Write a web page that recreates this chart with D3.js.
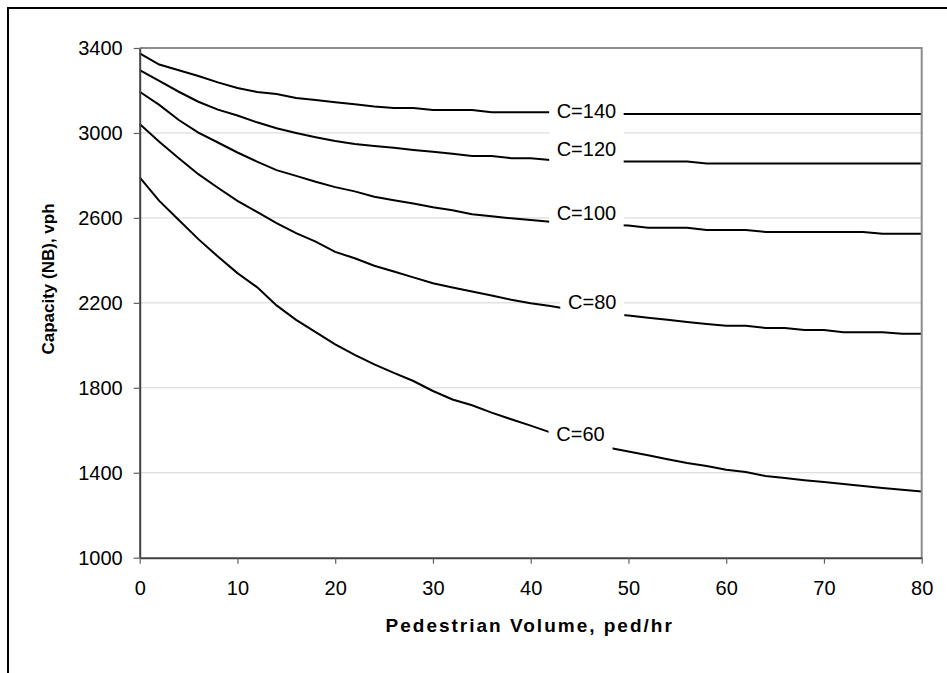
<!DOCTYPE html>
<html>
<head>
<meta charset="UTF-8">
<title>Capacity vs Pedestrian Volume</title>
<script src="https://d3js.org/d3.v7.min.js"></script>
<style>
  body { margin: 0; background: #fff; }
  text { font-family: "Liberation Sans", Arial, sans-serif; fill: #000; }
</style>
</head>
<body>
<div id="chart"></div>
<script>
// pedestrian volume (ped/hr), one point every 2
const pedVolume = d3.range(0, 81, 2);

// capacity (vph) per cycle length
const cap140 = [3375, 3322, 3295, 3268, 3238, 3212, 3193, 3183, 3165, 3155, 3145, 3135, 3125, 3118, 3118, 3108, 3108, 3108, 3097, 3097, 3097,
                3097, 3093, 3093, 3089, 3089, 3089, 3089, 3089, 3089, 3089, 3089, 3089, 3089, 3089, 3089, 3089, 3089, 3089, 3089, 3089];
const cap120 = [3296, 3245, 3194, 3147, 3110, 3082, 3050, 3022, 3000, 2980, 2962, 2948, 2938, 2930, 2920, 2912, 2902, 2892, 2892, 2881, 2881,
                2873, 2870, 2868, 2865, 2865, 2865, 2865, 2865, 2856, 2856, 2856, 2856, 2856, 2856, 2856, 2856, 2856, 2856, 2856, 2856];
const cap100 = [3194, 3132, 3061, 3002, 2955, 2908, 2865, 2825, 2798, 2770, 2745, 2725, 2700, 2683, 2668, 2650, 2636, 2617, 2608, 2598, 2590,
                2582, 2576, 2570, 2566, 2564, 2554, 2554, 2554, 2543, 2543, 2543, 2534, 2534, 2534, 2534, 2534, 2534, 2525, 2525, 2525];
const cap80  = [3042, 2959, 2881, 2806, 2742, 2680, 2628, 2575, 2528, 2488, 2440, 2410, 2375, 2348, 2320, 2292, 2272, 2253, 2235, 2215, 2198,
                2185, 2170, 2158, 2148, 2140, 2130, 2120, 2110, 2100, 2092, 2092, 2082, 2082, 2072, 2072, 2062, 2062, 2062, 2054, 2054];
const cap60  = [2791, 2680, 2590, 2500, 2418, 2340, 2274, 2188, 2120, 2062, 2005, 1955, 1910, 1870, 1832, 1785, 1745, 1718, 1683, 1652, 1622,
                1590, 1565, 1540, 1518, 1500, 1482, 1464, 1446, 1432, 1414, 1403, 1385, 1375, 1365, 1356, 1347, 1338, 1328, 1320, 1312];

const seriesNames = ["C=140", "C=120", "C=100", "C=80", "C=60"];
const seriesValues = [cap140, cap120, cap100, cap80, cap60];
// label centre in data units
const labelX = [45.7, 45.7, 45.7, 46.3, 45.1];
const labelY = [3103, 2925, 2624, 2205, 1583];

const xTicks = [0, 10, 20, 30, 40, 50, 60, 70, 80];
const yTicks = [1000, 1400, 1800, 2200, 2600, 3000, 3400];

const W = 947, H = 673;
const plotL = 139.7, plotR = 921.7, plotT = 48, plotB = 557.7;

const svg = d3.select("#chart").append("svg")
    .attr("width", W).attr("height", H);

// outer frame (runs off the picture right and bottom)
svg.append("rect")
    .attr("x", 8).attr("y", 8).attr("width", 1200).attr("height", 1200)
    .attr("fill", "none").attr("stroke", "#000").attr("stroke-width", 2);

const x = d3.scaleLinear().domain([0, 80]).range([plotL, plotR]);
const y = d3.scaleLinear().domain([1000, 3400]).range([plotB, plotT]);

// gridlines
svg.append("g").selectAll("line")
    .data(yTicks.filter(d => d > 1000 && d < 3400))
    .join("line")
    .attr("x1", plotL).attr("x2", plotR)
    .attr("y1", d => y(d)).attr("y2", d => y(d))
    .attr("stroke", "#d4d4d4").attr("stroke-width", 1);

// curves
const line = d3.line()
    .x((d, i) => x(pedVolume[i]))
    .y(d => y(d));

svg.append("g").selectAll("path")
    .data(seriesValues)
    .join("path")
    .attr("d", d => line(d))
    .attr("fill", "none")
    .attr("stroke", "#000")
    .attr("stroke-width", 2);

// labels with white boxes
const lab = svg.append("g").selectAll("g")
    .data(seriesNames)
    .join("g")
    .attr("transform", (d, i) => "translate(" + x(labelX[i]) + "," + y(labelY[i]) + ")");
lab.append("rect")
    .attr("x", d => -(d.length * 10.5 + 22) / 2)
    .attr("y", -17)
    .attr("width", d => d.length * 10.5 + 22)
    .attr("height", 34)
    .attr("fill", "#fff");
lab.append("text")
    .attr("text-anchor", "middle")
    .attr("dy", "0.35em")
    .style("font-size", "20px")
    .text(d => d);

// plot border: top and right in grey
svg.append("path")
    .attr("d", "M" + plotL + "," + plotT + "H" + plotR + "V" + plotB)
    .attr("fill", "none").attr("stroke", "#8c8c8c").attr("stroke-width", 2);

// axes
const yAxis = svg.append("g")
    .attr("transform", "translate(" + plotL + ",0)")
    .call(d3.axisLeft(y).tickValues(yTicks).tickFormat(d3.format("d"))
        .tickSize(6).tickSizeOuter(0).tickPadding(11));
const xAxis = svg.append("g")
    .attr("transform", "translate(0," + plotB + ")")
    .call(d3.axisBottom(x).tickValues(xTicks).tickFormat(d3.format("d"))
        .tickSize(6).tickSizeOuter(0).tickPadding(17));

[xAxis, yAxis].forEach(function (a) {
    a.select(".domain").attr("stroke", "#404040").attr("stroke-width", 2);
    a.selectAll(".tick line").attr("stroke", "#606060").attr("stroke-width", 1.2);
    a.selectAll(".tick text")
        .style("font-size", "20px")
        .style("font-family", "'Liberation Sans', Arial, sans-serif")
        .attr("fill", "#000");
});

// axis titles
svg.append("text")
    .attr("x", (plotL + plotR) / 2 - 1)
    .attr("y", 632)
    .attr("text-anchor", "middle")
    .style("font-size", "19px")
    .style("font-weight", "bold")
    .style("letter-spacing", "2px")
    .text("Pedestrian Volume, ped/hr");

svg.append("text")
    .attr("transform", "translate(54,279) rotate(-90)")
    .attr("text-anchor", "middle")
    .style("font-size", "17px")
    .style("font-weight", "bold")
    .text("Capacity (NB), vph");
</script>
</body>
</html>
